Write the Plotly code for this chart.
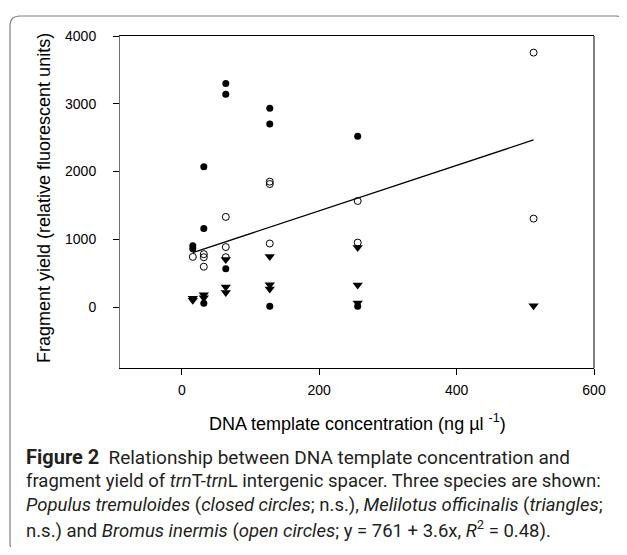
import plotly.graph_objects as go

# Data
populus_x = [16, 16, 32, 32, 32, 64, 64, 64, 128, 128, 128, 256, 256]
populus_y = [905, 860, 2070, 1160, 55, 3300, 3140, 565, 2935, 2700, 10, 2520, 10]

bromus_x = [16, 32, 32, 32, 64, 64, 64, 128, 128, 128, 256, 256, 512, 512]
bromus_y = [740, 780, 735, 595, 1330, 885, 735, 1850, 1815, 937, 1565, 951, 3755, 1305]

melilotus_x = [16, 16, 32, 32, 64, 64, 64, 128, 128, 128, 256, 256, 256, 512]
melilotus_y = [130, 100, 180, 135, 700, 295, 215, 745, 328, 265, 878, 324, 60, 20]

fit_x = [16, 512]
fit_intercept = 750
fit_slope = 3.35
fit_y = [fit_intercept + fit_slope * v for v in fit_x]

x_ticks = [0, 200, 400, 600]
y_ticks = [0, 1000, 2000, 3000, 4000]

OFF = 8
W, H = 627 - 2 * OFF, 555 - 2 * OFF
SL, SR, ST, SB = 120, 594, 36, 368
L, T = SL - OFF, ST - OFF
R = W - (SR - OFF)
B = H - (SB - OFF)
PW, PH = W - L - R, H - T - B


def px(xs):
    return (xs - OFF - L) / PW


def py(ys):
    return (H - B - (ys - OFF)) / PH


fig = go.Figure()
fig.add_trace(go.Scatter(x=fit_x, y=fit_y, mode="lines",
                         line=dict(color="black", width=1.3), showlegend=False))
fig.add_trace(go.Scatter(x=bromus_x, y=bromus_y, mode="markers",
                         marker=dict(symbol="circle-open", size=7, color="black",
                                     line=dict(width=1, color="black")), showlegend=False))
fig.add_trace(go.Scatter(x=melilotus_x, y=melilotus_y, mode="markers",
                         marker=dict(symbol="triangle-down", size=9, color="black"),
                         showlegend=False))
fig.add_trace(go.Scatter(x=populus_x, y=populus_y, mode="markers",
                         marker=dict(symbol="circle", size=7, color="black"),
                         showlegend=False))

tickfont = dict(family="Liberation Sans, Arial", size=14, color="black")
fig.update_xaxes(range=[-90, 600], tickvals=x_ticks, showline=True, linecolor="black",
                 linewidth=1, mirror=True, ticks="outside", ticklen=6, tickcolor="black",
                 showgrid=False, zeroline=False, tickfont=tickfont, ticklabelstandoff=3)
fig.update_yaxes(range=[-900, 4000], tickvals=y_ticks, showline=True, linecolor="#707070",
                 linewidth=1, mirror=False, ticks="outside", ticklen=6, tickcolor="black",
                 showgrid=False, zeroline=False, tickfont=tickfont, ticklabelstandoff=14)

title_font = dict(family="Liberation Sans, Arial", size=18, color="black")
annotations = [
    dict(x=px(32), y=py(198), xref="paper", yref="paper", showarrow=False, textangle=-90,
         text="Fragment yield (relative fluorescent units)", font=title_font),
    dict(x=px(357), y=py(436), xref="paper", yref="paper", showarrow=False,
         text="DNA template concentration (ng µl <sup>-1</sup>)", font=title_font),
]

cap_font = dict(family="Roboto, Noto Sans", size=18.5, color="#231f20")
caption = [
    "<b><span style=\"font-size:20px\">Figure 2</span></b>\u00a0 "
    "<span style=\"font-size:19px\">Relationship between DNA template concentration and</span>",
    "fragment yield of <i>trn</i>T-<i>trn</i>L intergenic spacer. Three species are shown:",
    "<i>Populus tremuloides</i> (<i>closed circles</i>; n.s.), <i>Melilotus officinalis</i> (<i>triangles</i>;",
    "n.s.) and <i>Bromus inermis</i> (<i>open circles</i>; y = 761 + 3.6x, <i>R</i><sup>2</sup> = 0.48).",
]
cap_y = [457, 481, 505, 529]
for t, yy in zip(caption, cap_y):
    annotations.append(dict(x=px(24), y=py(yy), xref="paper", yref="paper", showarrow=False,
                            xanchor="left", yanchor="middle", text=t, font=cap_font))

x0, x1, y0, y1, r = 10, 626, 16, 553, 10
rx, ry = r / PW, r / PH
path = (f"M {px(x0)+rx},{py(y0)} L {px(x1)-rx},{py(y0)} "
        f"Q {px(x1)},{py(y0)} {px(x1)},{py(y0)-ry} "
        f"L {px(x1)},{py(y1)+ry} Q {px(x1)},{py(y1)} {px(x1)-rx},{py(y1)} "
        f"L {px(x0)+rx},{py(y1)} Q {px(x0)},{py(y1)} {px(x0)},{py(y1)+ry} "
        f"L {px(x0)},{py(y0)-ry} Q {px(x0)},{py(y0)} {px(x0)+rx},{py(y0)} Z")

shapes = [
    dict(type="path", path=path, xref="paper", yref="paper",
         line=dict(color="#808080", width=1.2), layer="below"),
    dict(type="line", x0=1, x1=1, y0=0, y1=1, xref="paper", yref="paper",
         line=dict(color="black", width=1)),
]

fig.update_layout(
    width=W, height=H, margin=dict(l=L, r=R, t=T, b=B),
    paper_bgcolor="white", plot_bgcolor="white",
    annotations=annotations, shapes=shapes,
)

fig.write_html("out.html")
